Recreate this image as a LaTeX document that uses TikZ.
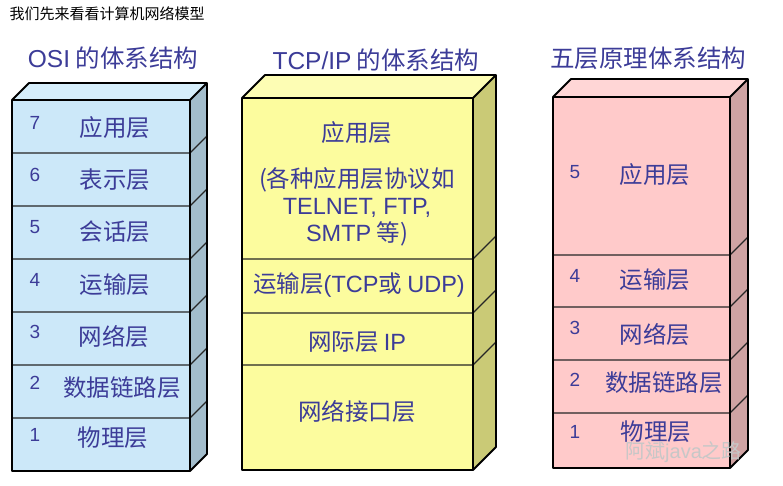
\documentclass[tikz,border=0pt]{standalone}
\usepackage{fontspec}
\setmainfont{Noto Sans CJK SC}
\newfontfamily\lat{Liberation Sans}
\usepackage{xcolor}
\usepackage{tikz}
\usetikzlibrary{positioning}
\definecolor{txtblue}{HTML}{3C3C98}
\definecolor{osifront}{HTML}{CCE8F9}
\definecolor{osiside}{HTML}{A3BDCC}
\definecolor{ositop}{HTML}{D6EEFB}
\definecolor{tcpfront}{HTML}{FCFC9E}
\definecolor{tcpside}{HTML}{CACA76}
\definecolor{tcptop}{HTML}{FDFDB4}
\definecolor{fivefront}{HTML}{FFCACA}
\definecolor{fiveside}{HTML}{CFA3A3}
\definecolor{fivetop}{HTML}{FFD6D6}
\tikzstyle{edge} = [draw=black, line width=1.8pt, line join=round]
\tikzstyle{sep} = [draw=black!85, line width=1.2pt]
\tikzstyle{title} = [text=txtblue, font=\fontsize{24.5}{28}\selectfont]
\tikzstyle{layer} = [text=txtblue, font=\fontsize{23.5}{27}\selectfont, align=center, inner sep=0pt]
\tikzstyle{num} = [text=txtblue, font=\lat\fontsize{19}{22}\selectfont, inner sep=0pt]

\begin{document}
\begin{tikzpicture}[x=1pt,y=-1pt]
\useasboundingbox (0,0) rectangle (783,486);
\fill[white] (0,0) rectangle (783,486);
\node[anchor=west, font=\fontsize{15}{18}\selectfont] (caption) at (6,14) {我们先来看看计算机网络模型};
%
\fill[osifront] (12,100) rectangle (190,471);
\fill[osiside] (190,100) -- (207,83) -- (207,454) -- (190,471) -- cycle;
\fill[ositop] (12,100) -- (29,83) -- (207,83) -- (190,100) -- cycle;
\foreach \y in {153,206,259,312,365,418}
  \draw[sep] (12,\y) -- (190,\y) -- ++(17,-17);
\draw[edge] (12,100) -- (12,471) -- (190,471) -- (207,454) -- (207,83) -- (29,83) -- cycle;
\draw[edge] (12,100) -- (190,100) -- (207,83) (190,100) -- (190,471);
%
\fill[tcpfront] (242,98) rectangle (473,470);
\fill[tcpside] (473,98) -- (496,75) -- (496,447) -- (473,470) -- cycle;
\fill[tcptop] (242,98) -- (265,75) -- (496,75) -- (473,98) -- cycle;
\foreach \y in {259,313,365}
  \draw[sep] (242,\y) -- (473,\y) -- ++(23,-23);
\draw[edge] (242,98) -- (242,470) -- (473,470) -- (496,447) -- (496,75) -- (265,75) -- cycle;
\draw[edge] (242,98) -- (473,98) -- (496,75) (473,98) -- (473,470);
%
\fill[fivefront] (553,97) rectangle (730,468);
\fill[fiveside] (730,97) -- (748,79) -- (748,450) -- (730,468) -- cycle;
\fill[fivetop] (553,97) -- (571,79) -- (748,79) -- (730,97) -- cycle;
\foreach \y in {255,307,360,413}
  \draw[sep] (553,\y) -- (730,\y) -- ++(18,-18);
\draw[edge] (553,97) -- (553,468) -- (730,468) -- (748,450) -- (748,79) -- (571,79) -- cycle;
\draw[edge] (553,97) -- (730,97) -- (748,79) (730,97) -- (730,468);
%
\node[title] (osititle) at (113,58) {{\lat OSI} 的体系结构};
\node[title] (tcptitle) at (376,60) {{\lat TCP/IP} 的体系结构};
\node[title] (fivetitle) at (648,58) {五层原理体系结构};
%
\node[num] (osin7) at (35,123) {7};
\node[layer] (osi7) at (115,128) {应用层};
\node[num] (osin6) at (35,175) {6};
\node[layer] (osi6) at (115,180) {表示层};
\node[num] (osin5) at (35,227) {5};
\node[layer] (osi5) at (115,232) {会话层};
\node[num] (osin4) at (35,280) {4};
\node[layer] (osi4) at (115,285) {运输层};
\node[num] (osin3) at (35,332) {3};
\node[layer] (osi3) at (114,337) {网络层};
\node[num] (osin2) at (35,383) {2};
\node[layer] (osi2) at (122,388) {数据链路层};
\node[num] (osin1) at (35,435) {1};
\node[layer] (osi1) at (113,438) {物理层};
%
\node[layer] (tcpapp) at (357,133) {应用层};
\node[layer] (tcpproto) at (357,207) {(各种应用层协议如\\{\lat TELNET, FTP,}\\{\lat SMTP} 等)};
\node[layer] (tcptrans) at (359,285) {运输层{\lat (TCP}或 {\lat UDP)}};
\node[layer] (tcpip) at (357,342) {网际层 {\lat IP}};
\node[layer] (tcpnet) at (357,412) {网络接口层};
%
\node[num] (fiven5) at (575,172) {5};
\node[layer] (five5) at (655,175) {应用层};
\node[num] (fiven4) at (575,276) {4};
\node[layer] (five4) at (655,280) {运输层};
\node[num] (fiven3) at (575,328) {3};
\node[layer] (five3) at (655,335) {网络层};
\node[num] (fiven2) at (575,380) {2};
\node[layer] (five2) at (664,383) {数据链路层};
\node[num] (fiven1) at (575,432) {1};
\node[layer] (five1) at (656,432) {物理层};
%
\node[text=black!22, font=\fontsize{20}{24}\selectfont, anchor=west, inner sep=0pt] (mark) at (625,452) {阿斌{\lat java}之路};
\end{tikzpicture}
\end{document}
